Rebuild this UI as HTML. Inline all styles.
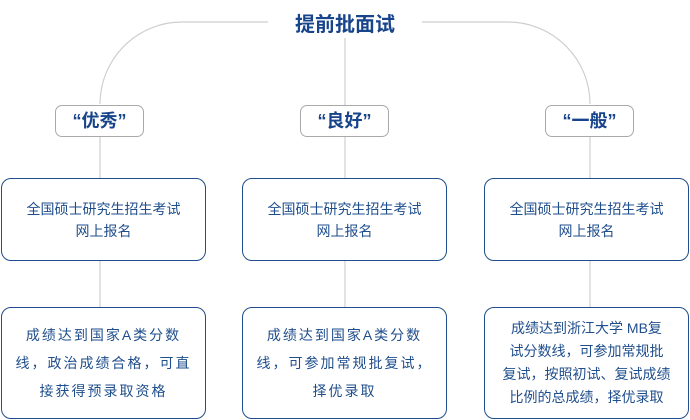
<!DOCTYPE html>
<html><head><meta charset="utf-8"><style>
body{margin:0;width:690px;height:420px;background:#fff;position:relative;overflow:hidden;font-family:"Liberation Sans","Noto Sans CJK SC",sans-serif}
.t{position:absolute;left:245px;top:8px;width:200px;text-align:center;font-size:20px;font-weight:bold;color:#17448a}
.l{position:absolute;width:87px;height:30px;border:1.5px solid #a9a9a9;border-radius:7px;background:#fff;text-align:center;line-height:30px;font-size:18px;font-weight:bold;color:#17448a;top:105px}
.b{position:absolute;width:205px;border:1.5px solid #1f4e8c;border-radius:10px;background:#fff;display:flex;align-items:center;justify-content:center;text-align:center;color:#1f4e8c;font-size:14px;line-height:25px;box-sizing:border-box;white-space:nowrap}
.r1{top:178px;height:83px;line-height:22px}
.r2{top:307px;height:112px}
.s{letter-spacing:2px}
</style></head><body>
<svg width="690" height="420" style="position:absolute;left:0;top:0">
<g fill="none" stroke="#cfcfcf" stroke-width="1.2">
<path d="M268 22 H182 A82 82 0 0 0 100 104"/>
<path d="M422 22 H508 A82 82 0 0 1 590 104"/>
<path d="M345 38 V105"/>
<path d="M100 137 V178 M345 137 V178 M590 137 V178"/>
<path d="M100 261 V307 M345 261 V307 M590 261 V307"/>
</g></svg>
<div class="t">提前批面试</div>
<div class="l" style="left:55px">“优秀”</div>
<div class="l" style="left:300px">“良好”</div>
<div class="l" style="left:545px">“一般”</div>
<div class="b r1" style="left:1px">全国硕士研究生招生考试<br>网上报名</div>
<div class="b r1" style="left:242px">全国硕士研究生招生考试<br>网上报名</div>
<div class="b r1" style="left:484px">全国硕士研究生招生考试<br>网上报名</div>
<div class="b r2 s" style="left:1px;line-height:28px">成绩达到国家A类分数<br>线，政治成绩合格，可直<br>接获得预录取资格</div>
<div class="b r2 s" style="left:242px;line-height:28px">成绩达到国家A类分数<br>线，可参加常规批复试，<br>择优录取</div>
<div class="b r2" style="left:484px;line-height:23px">成绩达到浙江大学 MB复<br>试分数线，可参加常规批<br>复试，按照初试、复试成绩<br>比例的总成绩，择优录取</div>
</body></html>
